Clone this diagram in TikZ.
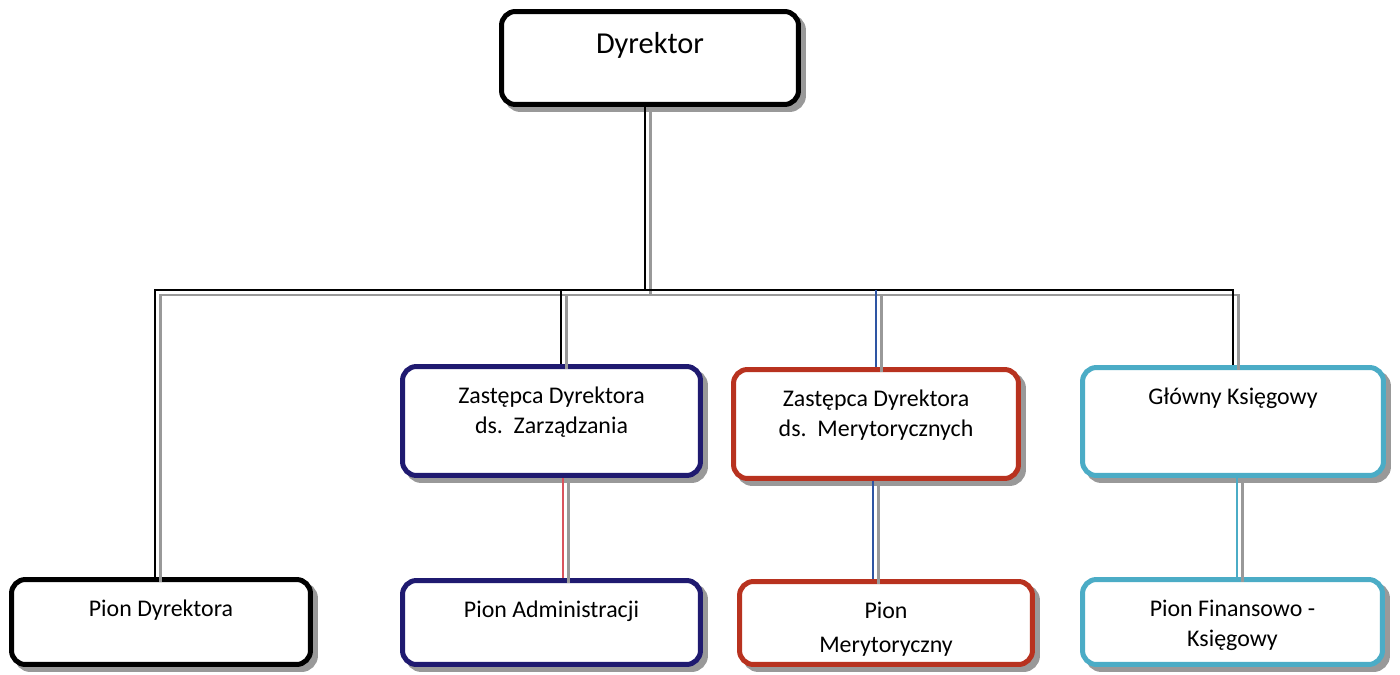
\documentclass[tikz,border=0pt]{standalone}
\usepackage{fontspec}
\setmainfont{Carlito}
\usetikzlibrary{calc}

\definecolor{zznavy}{HTML}{1F1A70}
\definecolor{zmred}{HTML}{B8321F}
\definecolor{gkcyan}{HTML}{4BACC6}
\definecolor{linkblue}{HTML}{2E55A3}
\definecolor{linkpink}{HTML}{D9545E}

% text sits near the top of each box
\newcommand{\boxtext}[2]{\parbox[c][#1][t]{5.5cm}{\centering\vspace*{0.41cm}#2}}

\tikzset{
  unitbox/.style = {draw, fill = white, line width = 0.1cm, rounded corners = 0.28cm, inner sep = 0pt,
    preaction = {draw = black!40, fill = black!40, line width = 0.1cm,
      transform canvas = {shift = {(0.1cm,-0.1cm)}}}},
  link/.style = {line width = 0.04cm,
    preaction = {draw = black!40, line width = 0.045cm,
      transform canvas = {shift = {(0.11cm,-0.1cm)}}}}
}

\begin{document}
\begin{tikzpicture}
      [x = 0.02cm, y = -0.02cm, font = \fontsize{13.6}{17}\selectfont]
      \useasboundingbox (0,0) rectangle (1400,675);

      \node[unitbox, minimum width = 5.94cm, minimum height = 1.86cm] (dyr) at (650,58)
        {\boxtext{1.86cm}{\fontsize{17.3}{20}\selectfont Dyrektor}};

      \node[unitbox, draw = zznavy, minimum width = 5.96cm, minimum height = 2.18cm] (zz) at (551.5,421)
        {\boxtext{2.18cm}{Zastępca Dyrektora\\ds.~~Zarządzania}};
      \node[unitbox, draw = zmred, minimum width = 5.70cm, minimum height = 2.18cm] (zm) at (876,424)
        {\boxtext{2.18cm}{Zastępca Dyrektora\\ds.~~Merytorycznych}};
      \node[unitbox, draw = gkcyan, minimum width = 6.02cm, minimum height = 2.16cm] (gk) at (1233,421.5)
        {\boxtext{2.16cm}{Główny Księgowy}};

      \node[unitbox, minimum width = 5.98cm, minimum height = 1.70cm] (pd) at (161,622)
        {\boxtext{1.70cm}{Pion Dyrektora}};
      \node[unitbox, draw = zznavy, minimum width = 5.96cm, minimum height = 1.68cm] (pa) at (551.5,622.5)
        {\boxtext{1.68cm}{Pion Administracji}};
      \node[unitbox, draw = zmred, minimum width = 5.86cm, minimum height = 1.66cm] (pm) at (886,623)
        {\boxtext{1.66cm}{Pion\\[2.3pt]Merytoryczny}};
      \node[unitbox, draw = gkcyan, minimum width = 6.00cm, minimum height = 1.70cm] (pf) at (1232.5,622)
        {\boxtext{1.70cm}{Pion Finansowo -\\Księgowy}};

      \coordinate (bus) at (0,290);

      % top level
      \draw[link] (dyr.south) ++(-0.1cm,0) coordinate (dyrb) -- (dyrb |- bus);
      \draw[link] (pd.north) ++(-0.12cm,0) coordinate (pdt) -- (pdt |- bus) -- (gk.north |- bus) -- (gk.north);
      \draw[link] (zz.north) ++(0.19cm,0) coordinate (zzt) -- (zzt |- bus);
      \draw[link, draw = linkblue] (zm.north) coordinate (zmt) -- (zmt |- bus);

      % second level
      \draw[link, draw = linkpink] (zz.south) ++(0.23cm,0) coordinate (zzb) -- (zzb |- pa.north);
      \draw[link, draw = linkblue] (zm.south) ++(-0.06cm,0) coordinate (zmb) -- (zmb |- pm.north);
      \draw[link, draw = gkcyan] (gk.south) ++(0.08cm,0) coordinate (gkb) -- (gkb |- pf.north);
    \end{tikzpicture}
\end{document}
